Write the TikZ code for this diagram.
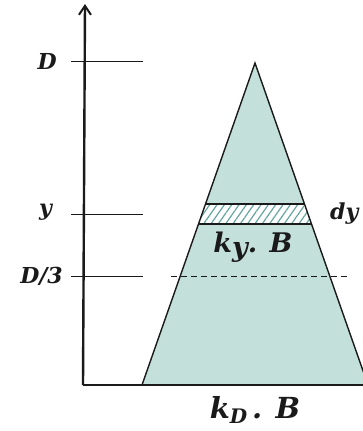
\documentclass[tikz,border=0pt]{standalone}
\usepackage{fontspec}
\setmainfont{DejaVu Serif}
\usetikzlibrary{arrows.meta,patterns.meta}
\definecolor{tealfill}{RGB}{196,224,219}
\definecolor{hatchcol}{RGB}{100,165,158}
\definecolor{ink}{RGB}{26,26,26}
\tikzset{
  lbl/.style={font=\fontsize{22}{22}\selectfont\bfseries\itshape, text=ink, inner sep=0pt},
  biglbl/.style={font=\fontsize{27}{27}\selectfont\bfseries\itshape, text=ink, inner sep=0pt},
  tick/.style={draw=ink, line width=1pt},
  edge/.style={draw=ink, line width=1.4pt},
  axis/.style={draw=ink, line width=2.4pt},
}
\begin{document}
\begin{tikzpicture}[x=1pt,y=-1pt]
\useasboundingbox (0,0) rectangle (363,431);
\clip (0,0) rectangle (363,431);
% coordinates
\coordinate (apex) at (255,63);
\coordinate (bl) at (142,385);
\coordinate (br) at (368,385);
\coordinate (o) at (83,385);
\coordinate (top) at (85,4);
\coordinate (xend) at (370,385);
% triangle
\fill[tealfill] (apex) -- (bl) -- (br) -- cycle;
% hatched strip
\coordinate (s1) at (205.7,203.5);
\coordinate (s2) at (303.5,203.5);
\coordinate (s3) at (311,224);
\coordinate (s4) at (198.5,224);
\fill[white] (s1) -- (s2) -- (s3) -- (s4) -- cycle;
\fill[pattern={Lines[angle=55,distance=6pt,line width=1.2pt]},pattern color=hatchcol] (s1) -- (s2) -- (s3) -- (s4) -- cycle;
\draw[ink,line width=2pt] (s1) -- (s2);
\draw[ink,line width=2pt] (s4) -- (s3);
\draw[edge] (bl) -- (apex) -- (br);
% dashed D/3 line
\coordinate (d1) at (171,276);
\coordinate (d2) at (347,276);
\draw[ink,line width=1pt,dash pattern=on 6pt off 4pt] (d1) -- (d2);
% axes
\draw[axis,-{Straight Barb[length=9pt,width=12pt,line width=2pt]}] (o) -- (top);
\draw[ink,line width=2.5pt] (o) -- (xend);
% ticks
\coordinate (tD1) at (71,61.3);  \coordinate (tD2) at (143,61.3);
\coordinate (ty1) at (71,214);   \coordinate (ty2) at (143,214);
\coordinate (t31) at (71,276);   \coordinate (t32) at (143,276);
\draw[tick] (tD1) -- (tD2);
\draw[tick] (ty1) -- (ty2);
\draw[tick] (t31) -- (t32);
% labels
\node[lbl, anchor=east] (lD) at (57,61) {D};
\node[lbl, anchor=east] (ly) at (52,212) {y};
\node[lbl, anchor=east] (l3) at (63,276) {D/3};
\node[lbl, anchor=west] (ldy) at (330,214) {dy};
\node[biglbl] (lky) at (253,247) {k\raisebox{-0.25ex}{y}. B};
\node[biglbl, font=\fontsize{29}{29}\selectfont\bfseries\itshape] (lkd) at (255,410) {k\raisebox{-0.3ex}{\fontsize{20}{20}\selectfont D}\,. B};
\end{tikzpicture}
\end{document}
